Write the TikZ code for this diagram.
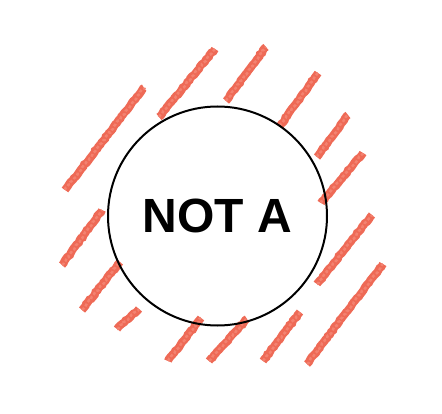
\documentclass[tikz,border=0pt]{standalone}
\usepackage{fontspec}
\setmainfont{Liberation Sans}
\usetikzlibrary{decorations.pathmorphing}
\definecolor{crayon}{RGB}{238,106,86}
\definecolor{crayonlt}{RGB}{243,130,112}
\tikzset{
  hatch/.style={draw=crayon, line width=8pt,
    decorate, decoration={random steps, segment length=2.5pt, amplitude=0.6pt}},
  hatchin/.style={draw=crayonlt, line width=2.5pt, dash pattern=on 3pt off 2pt,
    decorate, decoration={random steps, segment length=2pt, amplitude=0.8pt}},
  ring/.style={circle, draw=black, line width=2pt, minimum size=219pt, inner sep=0pt,
    font=\bfseries\fontsize{48}{48}\selectfont}
}
\begin{document}
\begin{tikzpicture}[x=1pt,y=-1pt]
\useasboundingbox (0,0) rectangle (442,414);
\foreach \a/\b/\c/\d in {
 65/190/144/88, 159/117/215/49, 226/101/266/47, 280/126/318/73,
 317/157/348/115, 321/203/363/153, 62/265/102/210, 82/310/120/262,
 117/329/139/309, 168/361/201/318, 209/361/247/319, 263/361/300/312,
 307/364/383/264, 317/284/372/215}{
  \path[hatch] (\a,\b) -- (\c,\d);
  \path[hatchin] (\a,\b) -- (\c,\d);
}
\node[ring] (c) at (217.5,216) {NOT A};
\end{tikzpicture}
\end{document}
